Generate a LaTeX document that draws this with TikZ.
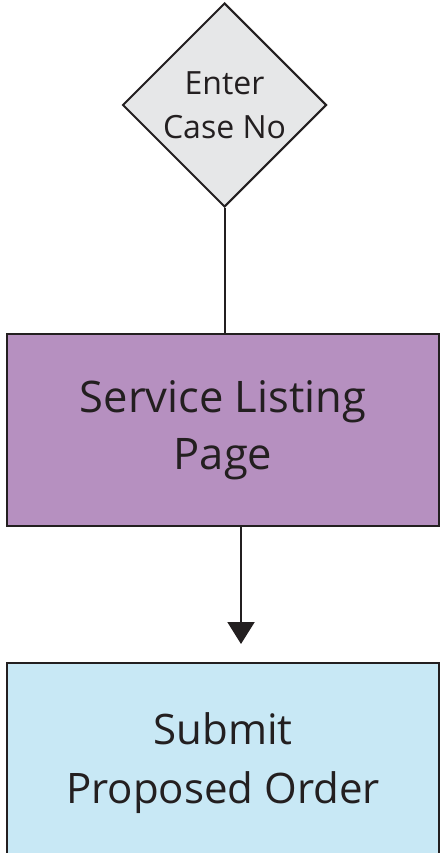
\documentclass[tikz,border=0pt]{standalone}
\usepackage{fontspec}
\setmainfont{Open Sans}
\usetikzlibrary{shapes.geometric, arrows.meta}

\definecolor{inkdark}{HTML}{231F20}
\definecolor{casegray}{HTML}{E6E7E8}
\definecolor{listpurple}{HTML}{B690C0}
\definecolor{orderblue}{HTML}{C8E8F5}

\tikzset{
	stepline/.style = {draw = inkdark, line width = 2pt},
	pagebox/.style = {stepline, rectangle, inner sep = 0pt, minimum width = 432pt, text = inkdark, align = center, font = \fontsize{43.5}{57}\selectfont}
}

\begin{document}
\begin{tikzpicture}
	
	\useasboundingbox (0pt, 0pt) rectangle (440pt, -853pt);
	\clip (0pt, 0pt) rectangle (440pt, -853pt);
	
	% The steps
	
	\node [stepline, diamond, fill = casegray, minimum width = 204pt, minimum height = 204pt, inner sep = 0pt, text = inkdark, align = center, font = \fontsize{32}{44}\selectfont] (case) at (224.5pt, -105pt) {Enter\\Case No};
	
	\node [pagebox, fill = listpurple, minimum height = 192pt] (listing) at (223pt, -430pt) {Service Listing\\Page};
	
	\node [pagebox, fill = orderblue, minimum height = 200pt, font = \fontsize{42}{59}\selectfont] (order) at (223pt, -763pt) {Submit\\Proposed Order};
	
	% The links
	
	\draw [stepline] (case.south) -- (case.south |- listing.north);
	\draw [stepline, -{Triangle[width = 27pt, length = 22pt]}] ([xshift = 18pt] listing.south) -- ([xshift = 18pt, yshift = 18pt] order.north);

\end{tikzpicture}
\end{document}
